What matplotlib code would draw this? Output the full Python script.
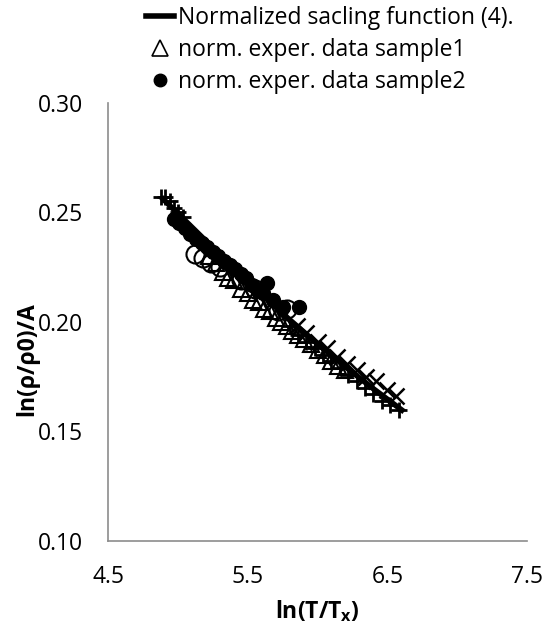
import matplotlib

matplotlib.use("Agg")
import matplotlib.pyplot as plt
from matplotlib.lines import Line2D

plt.rcParams["font.family"] = ["Open Sans", "DejaVu Sans"]

# scaling function (4), normalized
fit_x = [4.88, 5.0, 5.2, 5.4, 5.6, 5.8, 6.0, 6.2, 6.4, 6.62]
fit_y = [0.257, 0.2495, 0.237, 0.2245, 0.2125, 0.201, 0.190, 0.1795, 0.1695, 0.159]

# sample1 (open triangles)
s1_x = [5.22, 5.27, 5.32, 5.36, 5.40, 5.45, 5.50, 5.54, 5.58, 5.62, 5.66, 5.70, 5.74, 5.78,
        5.82, 5.86, 5.90, 5.95, 6.00, 6.05, 6.10, 6.15, 6.20]
s1_y = [0.230, 0.227, 0.223, 0.220, 0.219, 0.215, 0.213, 0.210, 0.209, 0.206, 0.205, 0.202, 0.200, 0.198,
        0.196, 0.194, 0.192, 0.190, 0.187, 0.185, 0.182, 0.180, 0.178]

# sample2 (filled circles)
s2_x = [4.97, 5.01, 5.05, 5.09, 5.13, 5.17, 5.21, 5.25, 5.29, 5.33, 5.37, 5.41, 5.45, 5.49,
        5.53, 5.57, 5.61, 5.64, 5.68, 5.75, 5.87]
s2_y = [0.247, 0.245, 0.243, 0.240, 0.238, 0.236, 0.234, 0.232, 0.230, 0.228, 0.226, 0.224, 0.222, 0.220,
        0.217, 0.215, 0.213, 0.218, 0.210, 0.207, 0.207]

# other samples, not in legend
s3_x = [5.12, 5.18, 5.24, 5.30, 5.45, 5.55, 5.72, 5.78]
s3_y = [0.231, 0.229, 0.227, 0.225, 0.219, 0.215, 0.205, 0.206]
s4_x = [4.88, 4.91, 4.94, 4.97, 5.00, 5.04, 5.80, 5.86, 5.92, 5.98, 6.04, 6.10, 6.16, 6.22,
        6.28, 6.34, 6.40, 6.46, 6.52, 6.58]
s4_y = [0.257, 0.257, 0.255, 0.252, 0.250, 0.248, 0.198, 0.194, 0.191, 0.188, 0.185, 0.182, 0.179, 0.176,
        0.173, 0.170, 0.167, 0.164, 0.162, 0.160]
s5_x = [5.85, 5.92, 6.00, 6.07, 6.14, 6.21, 6.28, 6.35, 6.42, 6.50, 6.56]
s5_y = [0.198, 0.195, 0.191, 0.188, 0.184, 0.181, 0.178, 0.175, 0.173, 0.169, 0.166]

x_ticks = [4.5, 5.5, 6.5, 7.5]
y_ticks = [0.10, 0.15, 0.20, 0.25, 0.30]

fig = plt.figure(figsize=(5.6, 6.35), dpi=100)
ax = fig.add_axes([0.193, 0.148, 0.748, 0.690])

ax.plot(s3_x, s3_y, "o", mfc="none", mec="black", ms=13, mew=1.5)
ax.plot(s4_x, s4_y, "+", color="black", ms=12, mew=2)
ax.plot(s5_x, s5_y, "x", color="black", ms=11, mew=1.8)
ax.plot(s1_x, s1_y, "^", mfc="none", mec="black", ms=11, mew=1.5)
ax.plot(s2_x, s2_y, "o", color="black", ms=10)
ax.plot(fit_x, fit_y, "-", color="black", lw=4, solid_capstyle="butt")

ax.set_xlim(4.5, 7.5)
ax.set_ylim(0.10, 0.30)
ax.set_xticks(x_ticks)
ax.set_xticklabels([f"{v:.1f}" for v in x_ticks])
ax.set_yticks(y_ticks)
ax.set_yticklabels([f"{v:.2f}" for v in y_ticks])
ax.tick_params(length=0, labelsize=16.5, colors="black")
ax.tick_params(axis="x", pad=17)
ax.tick_params(axis="y", pad=18)
for side in ("top", "right"):
    ax.spines[side].set_visible(False)
for side in ("left", "bottom"):
    ax.spines[side].set_color("#8c8c8c")
    ax.spines[side].set_linewidth(1.2)

ax.set_xlabel("ln(T/T$_\\mathregular{x}$)", fontsize=16.5, fontweight="bold")
ax.set_ylabel("ln(ρ/ρ0)/A", fontsize=16.5, fontweight="bold")
ax.xaxis.set_label_coords(0.5, -0.13)
ax.yaxis.set_label_coords(-0.165, 0.415)

handles = [
    Line2D([], [], color="black", lw=4),
    Line2D([], [], ls="none", marker="^", mfc="none", mec="black", ms=11, mew=1.2),
    Line2D([], [], ls="none", marker="o", color="black", ms=9),
]
labels = ["Normalized sacling function (4).", "norm. exper. data sample1", "norm. exper. data sample2"]
fig.legend(handles, labels, loc="upper left", bbox_to_anchor=(0.245, 1.005), frameon=False,
           fontsize=16.5, handlelength=1.2, handletextpad=0.2, labelspacing=0.35, borderaxespad=0)

fig.savefig("out.png", dpi=100)
